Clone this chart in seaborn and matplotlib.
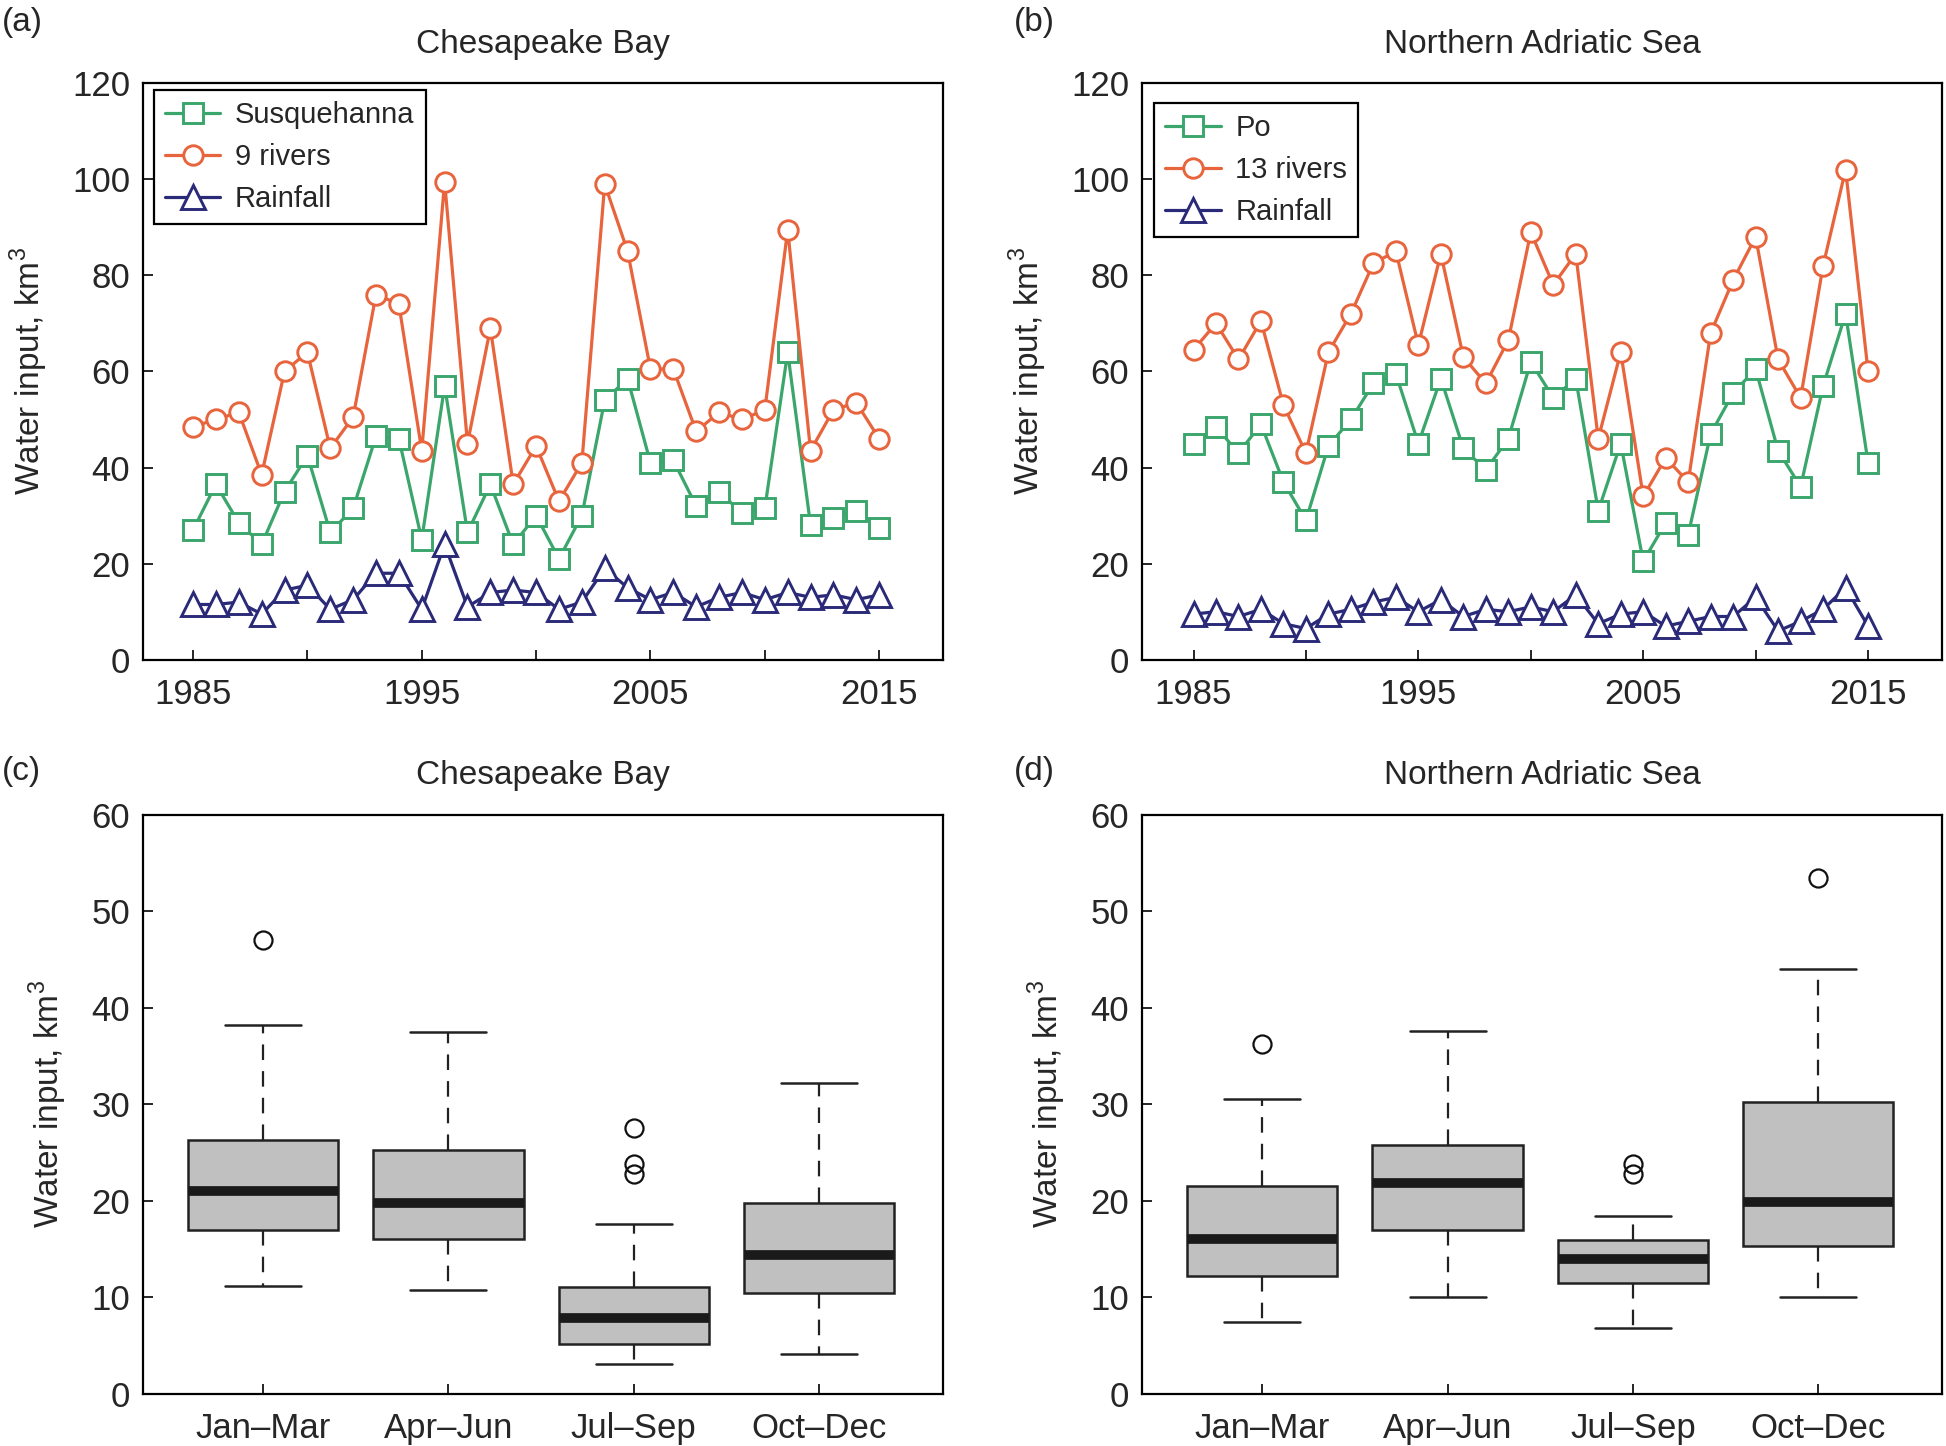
import numpy as np
import pandas as pd
import matplotlib
matplotlib.use("Agg")
import matplotlib.pyplot as plt
import seaborn as sns

# ---------------- data ----------------
years = [1985, 1986, 1987, 1988, 1989, 1990, 1991, 1992, 1993, 1994, 1995,
         1996, 1997, 1998, 1999, 2000, 2001, 2002, 2003, 2004, 2005, 2006,
         2007, 2008, 2009, 2010, 2011, 2012, 2013, 2014, 2015]

susquehanna = [27, 36.5, 28.5, 24, 35, 42.5, 26.5, 31.5, 46.5, 46, 25,
               57, 26.5, 36.5, 24, 30, 21, 30, 54, 58.5, 41, 41.5,
               32, 35, 30.5, 31.5, 64, 28, 29.5, 31, 27.5]
nine_rivers = [48.5, 50, 51.5, 38.5, 60, 64, 44, 50.5, 76, 74, 43.5,
               99.5, 45, 69, 36.5, 44.5, 33, 41, 99, 85, 60.5, 60.5,
               47.5, 51.5, 50, 52, 89.5, 43.5, 52, 53.5, 46]
rain_cb = [11.5, 11.5, 12, 9.5, 14.5, 15.5, 10.5, 12.5, 18, 18, 10.5,
           24, 11, 14, 14.5, 14, 10.5, 12, 19, 15, 12.5, 14,
           11, 13, 14, 12.5, 14, 13, 13.5, 12.5, 13.5]

po = [45, 48.5, 43, 49, 37, 29, 44.5, 50, 57.5, 59.5, 45,
      58.5, 44, 39.5, 46, 62, 54.5, 58.5, 31, 45, 20.5, 28.5,
      26, 47, 55.5, 60.5, 43.5, 36, 57, 72, 41]
thirteen_rivers = [64.5, 70, 62.5, 70.5, 53, 43, 64, 72, 82.5, 85, 65.5,
                   84.5, 63, 57.5, 66.5, 89, 78, 84.5, 46, 64, 34, 42,
                   37, 68, 79, 88, 62.5, 54.5, 82, 102, 60]
rain_nas = [9.5, 10, 9, 10.5, 7.5, 6.5, 9.5, 10.5, 12, 13, 10,
            12.5, 9, 10.5, 10, 11, 10, 13.5, 7.5, 9.5, 10, 7,
            8, 9, 9, 13, 6, 8, 10.5, 15, 7]

seasons = ["Jan\u2013Mar", "Apr\u2013Jun", "Jul\u2013Sep", "Oct\u2013Dec"]
# box statistics: lower whisker, Q1, median, Q3, upper whisker, outliers
cb_whislo = [11.2, 10.8, 3.1, 4.1]
cb_q1 = [17.0, 16.0, 5.2, 10.5]
cb_med = [21.0, 19.8, 7.9, 14.4]
cb_q3 = [26.3, 25.3, 11.1, 19.8]
cb_whishi = [38.2, 37.5, 17.6, 32.2]
cb_fliers = [[47.0], [], [27.5, 23.8, 22.8], []]

nas_whislo = [7.4, 10.0, 6.8, 10.0]
nas_q1 = [12.2, 17.0, 11.5, 15.3]
nas_med = [16.0, 21.8, 14.0, 19.9]
nas_q3 = [21.5, 25.8, 15.9, 30.2]
nas_whishi = [30.6, 37.6, 18.4, 44.0]
nas_fliers = [[36.3], [], [23.8, 22.8], [53.5]]

# ---------------- style ----------------
sns.set_style("ticks")
plt.rcParams['font.family'] = ['Liberation Sans Narrow', 'Liberation Sans', 'DejaVu Sans']
plt.rcParams['mathtext.fontset'] = 'custom'
plt.rcParams['mathtext.rm'] = 'Liberation Sans'

GREEN = "#3aa66c"
ORANGE = "#e8643c"
NAVY = "#2a2a78"
TICK_FS = 25
LAB_FS = 24
TITLE_FS = 24

fig = plt.figure(figsize=(19.46, 14.46), dpi=100)
W, H = 1568.0, 1166.0


def make_ax(l, r, t, b):
    return fig.add_axes([l / W, 1 - b / H, (r - l) / W, (b - t) / H])


ax_a = make_ax(115, 760, 67, 532)
ax_b = make_ax(920, 1565, 67, 532)
ax_c = make_ax(115, 760, 657, 1124)
ax_d = make_ax(920, 1565, 657, 1124)


def style_axes(ax):
    for s in ax.spines.values():
        s.set_visible(True)
        s.set_linewidth(1.6)
        s.set_color("black")
    ax.tick_params(direction="in", length=7, width=1.4, labelsize=TICK_FS,
                   top=False, right=False)
    ax.tick_params(axis="x", pad=13)
    ax.tick_params(axis="y", pad=9)
    ax.set_ylabel("Water input, km$^3$", fontsize=LAB_FS, labelpad=16)


def line_panel(ax, s1, n1, s2, n2, s3, n3, title, xlim, leg_anchor):
    df = pd.DataFrame({"year": years, "a": s1, "b": s2, "c": s3})
    common = dict(lw=2.3, markersize=14, markeredgewidth=2.1,
                  markerfacecolor="white", ax=ax)
    sns.lineplot(data=df, x="year", y="a", color=GREEN, marker="s",
                 markeredgecolor=GREEN, label=n1, **common)
    sns.lineplot(data=df, x="year", y="b", color=ORANGE, marker="o",
                 markeredgecolor=ORANGE, label=n2, **common)
    sns.lineplot(data=df, x="year", y="c", color=NAVY, marker="^",
                 markeredgecolor=NAVY, label=n3, markersize=17,
                 lw=2.3, markeredgewidth=2.1, markerfacecolor="white", ax=ax)
    ax.set_ylim(0, 120)
    ax.set_yticks([0, 20, 40, 60, 80, 100, 120])
    ax.set_xlim(*xlim)
    ax.set_xticks([1985, 1990, 1995, 2000, 2005, 2010, 2015])
    ax.set_xticklabels(["1985", "", "1995", "", "2005", "", "2015"])
    ax.set_xlabel("")
    style_axes(ax)
    ax.set_title(title, fontsize=TITLE_FS, pad=22)
    leg = ax.legend(loc="upper left", bbox_to_anchor=leg_anchor,
                    fontsize=21, frameon=True, fancybox=False,
                    edgecolor="black", framealpha=1, handlelength=1.9,
                    borderpad=0.38, labelspacing=0.48, handletextpad=0.5,
                    borderaxespad=0.0)
    leg.get_frame().set_linewidth(1.6)


def box_panel(ax, whislo, q1, med, q3, whishi, fliers, title):
    stats = []
    for i in range(4):
        stats.append(dict(label=seasons[i], whislo=whislo[i], q1=q1[i],
                          med=med[i], q3=q3[i], whishi=whishi[i],
                          fliers=fliers[i]))
    ax.bxp(stats, positions=[1, 2, 3, 4], widths=0.81, patch_artist=True,
           showfliers=True,
           boxprops=dict(facecolor="#c0c0c0", edgecolor="#222222", linewidth=1.8),
           medianprops=dict(color="#1a1a1a", linewidth=7, solid_capstyle="butt"),
           whiskerprops=dict(color="#222222", linewidth=1.6, linestyle=(0, (7, 5))),
           capprops=dict(color="#222222", linewidth=1.8),
           capwidths=0.41,
           flierprops=dict(marker="o", markerfacecolor="none",
                           markeredgecolor="#111111", markersize=13,
                           markeredgewidth=1.6))
    ax.set_ylim(0, 60)
    ax.set_yticks([0, 10, 20, 30, 40, 50, 60])
    ax.set_xlim(0.35, 4.67)
    ax.set_xticks([1, 2, 3, 4])
    ax.set_xticklabels(seasons)
    style_axes(ax)
    ax.set_title(title, fontsize=TITLE_FS, pad=22)


line_panel(ax_a, susquehanna, "Susquehanna", nine_rivers, "9 rivers",
           rain_cb, "Rainfall", "Chesapeake Bay", (1982.8, 2017.8),
           (0.014, 0.988))
line_panel(ax_b, po, "Po", thirteen_rivers, "13 rivers",
           rain_nas, "Rainfall", "Northern Adriatic Sea", (1982.7, 2018.3),
           (0.0155, 0.966))
box_panel(ax_c, cb_whislo, cb_q1, cb_med, cb_q3, cb_whishi, cb_fliers,
          "Chesapeake Bay")
box_panel(ax_d, nas_whislo, nas_q1, nas_med, nas_q3, nas_whishi, nas_fliers,
          "Northern Adriatic Sea")

for lab, x, y in [("(a)", 0, 18), ("(b)", 815, 18), ("(c)", 0, 622), ("(d)", 815, 622)]:
    fig.text(x / W + 0.001, 1 - y / H, lab, fontsize=LAB_FS, ha="left", va="center")

fig.savefig("out.png", dpi=100, facecolor="white")
